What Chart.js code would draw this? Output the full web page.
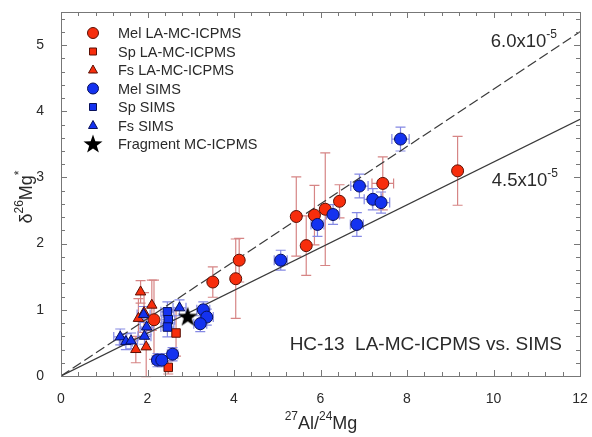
<!DOCTYPE html>
<html>
<head>
<meta charset="utf-8">
<script src="https://cdn.jsdelivr.net/npm/chart.js@4"></script>
<style>
  html, body { margin: 0; padding: 0; background: #fff; }
</style>
</head>
<body>
<canvas id="chart" width="592" height="437"></canvas>
<script>
// ---- data ----
// Mel LA-MC-ICPMS (red circles)
const melLaX = [9.17, 7.44, 6.44, 6.11, 5.86, 5.67, 5.44, 4.12, 4.04, 3.51, 2.15];
const melLaY = [3.10, 2.91, 2.64, 2.52, 2.43, 1.97, 2.41, 1.75, 1.47, 1.42, 0.85];
const melLaXErr = [0, 0.25, 0, 0, 0, 0, 0, 0, 0, 0, 0];
const melLaYErr = [0.52, 0.40, 0.25, 0.85, 0.45, 0.45, 0.60, 0.33, 0.60, 0.23, 0.60];

// Sp LA-MC-ICPMS (red squares)
const spLaX = [2.66, 2.48];
const spLaY = [0.65, 0.13];
const spLaXErr = [0, 0];
const spLaYErr = [0.35, 0.10];

// Fs LA-MC-ICPMS (red triangles)
const fsLaX = [1.84, 2.10, 1.92, 1.79, 1.73, 1.97];
const fsLaY = [1.27, 1.07, 0.96, 0.87, 0.40, 0.44];
const fsLaXErr = [0, 0, 0, 0, 0, 0];
const fsLaYErr = [0.17, 0.38, 0.30, 0.30, 0.20, 0.45];

// Mel SIMS (blue circles)
const melSimsX = [7.85, 6.90, 7.21, 7.40, 6.84, 6.29, 5.93, 5.08, 3.29, 3.37, 3.22, 2.58, 2.23, 2.33];
const melSimsY = [3.58, 2.87, 2.67, 2.62, 2.29, 2.44, 2.29, 1.75, 1.00, 0.89, 0.79, 0.33, 0.24, 0.24];
const melSimsXErr = [0.2, 0.2, 0.2, 0.2, 0.15, 0.15, 0.15, 0.15, 0.15, 0.15, 0.15, 0.12, 0.12, 0.12];
const melSimsYErr = [0.18, 0.18, 0.16, 0.16, 0.18, 0.15, 0.18, 0.15, 0.12, 0.12, 0.12, 0.10, 0.10, 0.10];

// Sp SIMS (blue squares)
const spSimsX = [2.46, 2.48, 2.46];
const spSimsY = [0.97, 0.85, 0.74];
const spSimsXErr = [0.15, 0.15, 0.15];
const spSimsYErr = [0.15, 0.15, 0.15];

// Fs SIMS (blue triangles)
const fsSimsX = [1.37, 1.50, 1.62, 1.93, 1.98, 2.74, 1.91];
const fsSimsY = [0.59, 0.52, 0.53, 0.60, 0.74, 1.03, 0.93];
const fsSimsXErr = [0.15, 0.15, 0.15, 0.15, 0.15, 0.15, 0.15];
const fsSimsYErr = [0.12, 0.12, 0.12, 0.12, 0.12, 0.12, 0.12];

// Fragment MC-ICPMS (black star)
const fragX = [2.93];
const fragY = [0.90];

// isochron lines
const fitX = [0, 12];
const fit60Y = [0, 5.20];
const fit45Y = [0, 3.88];

const xTicks = [0, 2, 4, 6, 8, 10, 12];
const yTicks = [0, 1, 2, 3, 4, 5];

const legendLabels = [
  "Mel LA-MC-ICPMS", "Sp LA-MC-ICPMS", "Fs LA-MC-ICPMS",
  "Mel SIMS", "Sp SIMS", "Fs SIMS", "Fragment MC-ICPMS"
];

// ---- styles ----
const RED = "#f72d0c", RED_EDGE = "#5a1005", RED_ERR = "#d68585";
const BLUE = "#1432f0", BLUE_EDGE = "#08105a", BLUE_ERR = "#8589e4";
const FONT = "'Liberation Sans', Arial, sans-serif";
const TXT = "#2a2a2a";

function toPoints(xs, ys, xe, ye) {
  return xs.map((x, i) => ({ x: x, y: ys[i], xErr: xe ? xe[i] : 0, yErr: ye ? ye[i] : 0 }));
}

function starPath(ctx, cx, cy, ro, ri) {
  ctx.beginPath();
  for (let i = 0; i < 10; i++) {
    const r = i % 2 === 0 ? ro : ri;
    const a = -Math.PI / 2 + i * Math.PI / 5;
    const px = cx + r * Math.cos(a), py = cy + r * Math.sin(a);
    if (i === 0) ctx.moveTo(px, py); else ctx.lineTo(px, py);
  }
  ctx.closePath();
}

// star image used as the point style of the fragment
const starImg = document.createElement("canvas");
starImg.width = 22; starImg.height = 22;
(function () {
  const c = starImg.getContext("2d");
  starPath(c, 11, 11.8, 10.5, 4.2);
  c.fillStyle = "#000";
  c.fill();
})();

function markerSet(color, edge) {
  return { backgroundColor: color, borderColor: edge, borderWidth: 1, pointRadius: 6, pointHoverRadius: 6 };
}

const datasets = [
  { label: "fit60", data: toPoints(fitX, fit60Y), showLine: true, borderColor: "#3a3a3a", borderWidth: 1.2,
    borderDash: [10, 4], pointRadius: 0, order: 10 },
  { label: "fit45", data: toPoints(fitX, fit45Y), showLine: true, borderColor: "#3a3a3a", borderWidth: 1.2,
    pointRadius: 0, order: 10 },
  Object.assign({ label: legendLabels[0], data: toPoints(melLaX, melLaY, melLaXErr, melLaYErr), pointStyle: "circle", errColor: RED_ERR, order: 2 }, markerSet(RED, RED_EDGE)),
  Object.assign({ label: legendLabels[1], data: toPoints(spLaX, spLaY, spLaXErr, spLaYErr), pointStyle: "rect", errColor: RED_ERR, order: 2 }, markerSet(RED, RED_EDGE)),
  Object.assign({ label: legendLabels[2], data: toPoints(fsLaX, fsLaY, fsLaXErr, fsLaYErr), pointStyle: "triangle", errColor: RED_ERR, order: 2 }, markerSet(RED, RED_EDGE)),
  Object.assign({ label: legendLabels[3], data: toPoints(melSimsX, melSimsY, melSimsXErr, melSimsYErr), pointStyle: "circle", errColor: BLUE_ERR, order: 1 }, markerSet(BLUE, BLUE_EDGE)),
  Object.assign({ label: legendLabels[4], data: toPoints(spSimsX, spSimsY, spSimsXErr, spSimsYErr), pointStyle: "rect", errColor: BLUE_ERR, order: 1 }, markerSet(BLUE, BLUE_EDGE)),
  Object.assign({ label: legendLabels[5], data: toPoints(fsSimsX, fsSimsY, fsSimsXErr, fsSimsYErr), pointStyle: "triangle", errColor: BLUE_ERR, order: 1 }, markerSet(BLUE, BLUE_EDGE)),
  { label: legendLabels[6], data: toPoints(fragX, fragY), pointStyle: starImg, pointRadius: 11, order: 0 }
];

// error bars, drawn under the markers
const errorBars = {
  id: "errorBars",
  beforeDatasetsDraw(chart) {
    const { ctx, scales: { x, y } } = chart;
    chart.data.datasets.forEach((ds) => {
      if (!ds.errColor) return;
      ctx.save();
      ctx.strokeStyle = ds.errColor;
      ctx.lineWidth = 1.2;
      ds.data.forEach((p) => {
        const px = x.getPixelForValue(p.x), py = y.getPixelForValue(p.y);
        ctx.beginPath();
        if (p.yErr) {
          const t = y.getPixelForValue(p.y + p.yErr), b = y.getPixelForValue(p.y - p.yErr);
          ctx.moveTo(px, t); ctx.lineTo(px, b);
          ctx.moveTo(px - 5, t); ctx.lineTo(px + 5, t);
          ctx.moveTo(px - 5, b); ctx.lineTo(px + 5, b);
        }
        if (p.xErr) {
          const l = x.getPixelForValue(p.x - p.xErr), r = x.getPixelForValue(p.x + p.xErr);
          ctx.moveTo(l, py); ctx.lineTo(r, py);
          ctx.moveTo(l, py - 5); ctx.lineTo(l, py + 5);
          ctx.moveTo(r, py - 5); ctx.lineTo(r, py + 5);
        }
        ctx.stroke();
      });
      ctx.restore();
    });
  }
};

// frame with inward ticks on all four sides
const frameTicks = {
  id: "frameTicks",
  afterDraw(chart) {
    const { ctx, chartArea: a, scales: { x, y } } = chart;
    ctx.save();
    ctx.strokeStyle = "#777";
    ctx.lineWidth = 1;
    ctx.strokeRect(a.left + 0.5, a.top + 0.5, a.right - a.left, a.bottom - a.top);
    ctx.beginPath();
    for (let i = 0; i <= 30; i++) {
      const v = i * 0.4;
      const px = Math.round(x.getPixelForValue(v)) + 0.5;
      const len = i % 5 === 0 ? 6 : 4;
      ctx.moveTo(px, a.bottom); ctx.lineTo(px, a.bottom - len);
      ctx.moveTo(px, a.top); ctx.lineTo(px, a.top + len);
    }
    for (let i = 0; i <= 27; i++) {
      const v = i * 0.2;
      const py = Math.round(y.getPixelForValue(v)) + 0.5;
      const len = i % 5 === 0 ? 6 : 4;
      ctx.moveTo(a.left, py); ctx.lineTo(a.left + len, py);
      ctx.moveTo(a.right, py); ctx.lineTo(a.right - len, py);
    }
    ctx.stroke();
    ctx.restore();
  }
};

// text with superscripts: parts = [[text, isSup], ...]
function supText(ctx, parts, x, y, size, align) {
  const supSize = Math.round(size * 0.66);
  let w = 0;
  parts.forEach((p) => {
    ctx.font = (p[1] ? supSize : size) + "px " + FONT;
    w += ctx.measureText(p[0]).width;
  });
  let cx = align === "center" ? x - w / 2 : align === "right" ? x - w : x;
  ctx.textAlign = "left";
  ctx.textBaseline = "middle";
  parts.forEach((p) => {
    ctx.font = (p[1] ? supSize : size) + "px " + FONT;
    ctx.fillText(p[0], cx, p[1] ? y - size * 0.38 : y);
    cx += ctx.measureText(p[0]).width;
  });
}

const annotations = {
  id: "annotations",
  afterDraw(chart) {
    const ctx = chart.ctx;
    ctx.save();
    ctx.fillStyle = TXT;

    // legend
    const symX = 93, txtX = 118;
    legendLabels.forEach((lab, i) => {
      const ly = 33 + i * 18.5;
      const red = i < 3;
      ctx.fillStyle = i === 6 ? "#000" : red ? RED : BLUE;
      ctx.strokeStyle = red ? RED_EDGE : BLUE_EDGE;
      ctx.lineWidth = 1;
      ctx.beginPath();
      const kind = i % 3;
      if (i === 6) {
        starPath(ctx, symX, ly + 0.5, 10, 4);
        ctx.fill();
      } else if (kind === 0) {
        ctx.arc(symX, ly, 5.5, 0, Math.PI * 2);
        ctx.fill(); ctx.stroke();
      } else if (kind === 1) {
        ctx.rect(symX - 3.5, ly - 3.5, 7, 7);
        ctx.fill(); ctx.stroke();
      } else {
        ctx.moveTo(symX, ly - 5); ctx.lineTo(symX + 4.5, ly + 3); ctx.lineTo(symX - 4.5, ly + 3); ctx.closePath();
        ctx.fill(); ctx.stroke();
      }
      ctx.fillStyle = TXT;
      ctx.font = "14.5px " + FONT;
      ctx.textAlign = "left";
      ctx.textBaseline = "middle";
      ctx.fillText(lab, txtX, ly + 1);
    });

    // slope labels
    supText(ctx, [["6.0x10", false], ["-5", true]], 557, 42, 18.5, "right");
    supText(ctx, [["4.5x10", false], ["-5", true]], 558, 181, 18.5, "right");

    // sample label
    ctx.font = "19px " + FONT;
    ctx.textAlign = "right";
    ctx.textBaseline = "middle";
    ctx.fillText("HC-13  LA-MC-ICPMS vs. SIMS", 562, 345);

    // axis titles
    supText(ctx, [["27", true], ["Al/", false], ["24", true], ["Mg", false]], 321, 424, 18, "center");
    ctx.translate(27, 197);
    ctx.rotate(-Math.PI / 2);
    supText(ctx, [["\u03b4", false], ["26", true], ["Mg", false], ["*", true]], 0, 0, 18, "center");
    ctx.restore();
  }
};

new Chart(document.getElementById("chart"), {
  type: "scatter",
  data: { datasets: datasets },
  options: {
    responsive: false,
    animation: false,
    layout: { padding: { top: 11, right: 12, left: 0, bottom: 0 } },
    plugins: { legend: { display: false }, tooltip: { enabled: false } },
    scales: {
      x: {
        min: 0, max: 12,
        grid: { display: false },
        border: { display: false },
        afterBuildTicks: (s) => { s.ticks = xTicks.map((v) => ({ value: v })); },
        afterFit: (s) => { s.height = 61; s.paddingLeft = 0; s.paddingRight = 0; },
        ticks: { color: TXT, padding: 7, font: { size: 14, family: FONT }, maxRotation: 0 }
      },
      y: {
        min: 0, max: 5.5,
        grid: { display: false },
        border: { display: false },
        afterBuildTicks: (s) => { s.ticks = yTicks.map((v) => ({ value: v })); },
        afterFit: (s) => { s.width = 61; s.paddingTop = 0; s.paddingBottom = 0; },
        ticks: { color: TXT, padding: 9, font: { size: 14, family: FONT } }
      }
    }
  },
  plugins: [errorBars, frameTicks, annotations]
});
</script>
</body>
</html>
